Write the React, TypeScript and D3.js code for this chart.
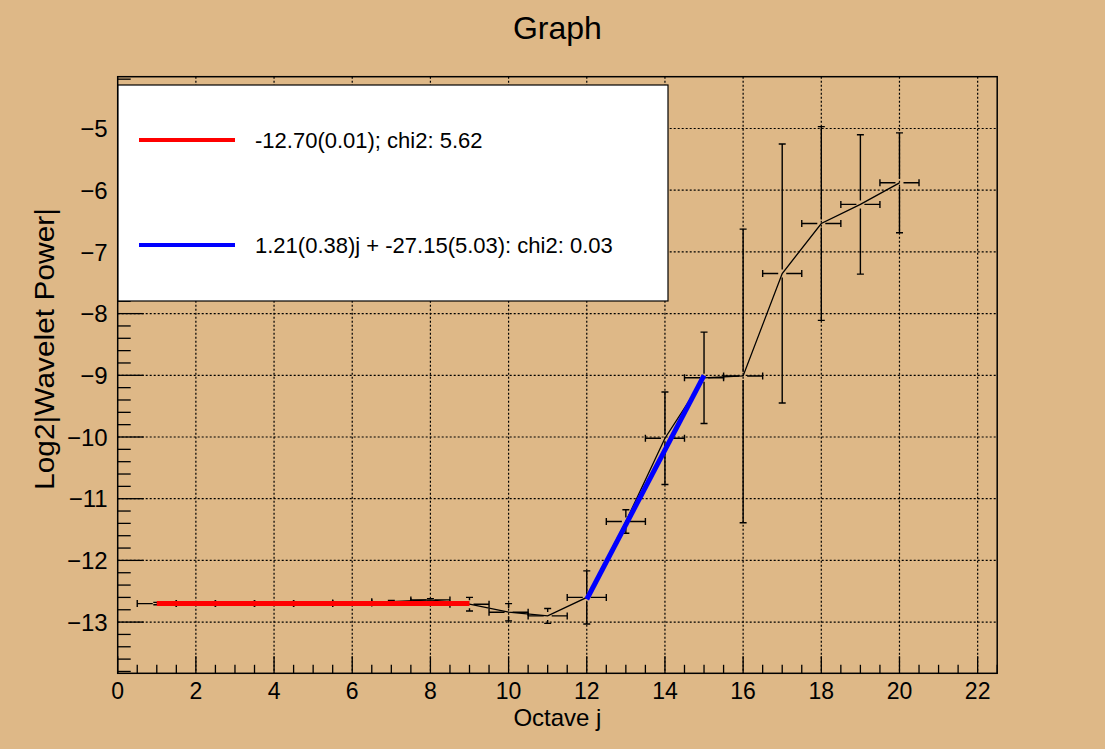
import React from 'react';
import * as d3 from 'd3';

// measured points (octave j, log2 wavelet power) with errors
const octave = [1, 2, 3, 4, 5, 6, 7, 8, 9, 10, 11, 12, 13, 14, 15, 16, 17, 18, 19, 20];
const octaveErr = [0.5, 0.5, 0.5, 0.5, 0.5, 0.5, 0.5, 0.5, 0.5, 0.5, 0.5, 0.5, 0.5, 0.5, 0.5, 0.5, 0.5, 0.5, 0.5, 0.5];
const power = [-12.70, -12.70, -12.70, -12.70, -12.70, -12.69, -12.67, -12.64, -12.71, -12.84,
  -12.90, -12.60, -11.37, -10.02, -9.04, -9.01, -7.35, -6.54, -6.23, -5.88];
const powerErr = [0.02, 0.02, 0.02, 0.02, 0.02, 0.02, 0.02, 0.02, 0.11, 0.14,
  0.12, 0.43, 0.19, 0.75, 0.74, 2.38, 2.10, 1.57, 1.13, 0.81];

// fits
const constFitRange = [1, 9];
const constFitValue = -12.70;
const linFitRange = [12, 15];
const linFitCoef = [1.21, -27.15]; // slope, intercept

const legendLabels = ['-12.70(0.01); chi2: 5.62', '1.21(0.38)j + -27.15(5.03): chi2: 0.03'];
const legendColors = ['#ff0000', '#0000ff'];

const xTicks = [0, 2, 4, 6, 8, 10, 12, 14, 16, 18, 20, 22];
const yTicks = [-13, -12, -11, -10, -9, -8, -7, -6, -5];

const W = 1105;
const H = 749;
const FONT = "'Liberation Sans', Arial, Helvetica, sans-serif";
const BG = '#deb887';

export default function App() {
  const frame = { left: 117.7, right: 997.2, top: 76.7, bottom: 673.3 };
  const x = d3.scaleLinear().domain([0, 22.5]).range([frame.left, frame.right]);
  const y = d3.scaleLinear().domain([-13.83, -4.16]).range([frame.bottom, frame.top]);

  const xMinor = d3.range(0, 22.5001, 0.5);
  const yMinor = d3.range(-13.8, -4.15, 0.2);

  const line = d3.line<number>().x((_, i) => x(octave[i])).y(d => y(d));

  const gap = 4;
  const cap = 3.5;

  const errorBars = octave.map((j, i) => {
    const cx = x(j);
    const cy = y(power[i]);
    const x0 = x(j - octaveErr[i]);
    const x1 = x(j + octaveErr[i]);
    const yTop = y(power[i] + powerErr[i]);
    const yBot = y(power[i] - powerErr[i]);
    const segs: string[] = [];
    if (cx - x0 > gap) {
      segs.push(`M${x0},${cy}H${cx - gap}`, `M${cx + gap},${cy}H${x1}`);
    }
    segs.push(`M${x0},${cy - cap}V${cy + cap}`, `M${x1},${cy - cap}V${cy + cap}`);
    if (cy - yTop > gap) {
      segs.push(`M${cx},${yTop}V${cy - gap}`, `M${cx},${cy + gap}V${yBot}`);
    }
    segs.push(`M${cx - cap},${yTop}H${cx + cap}`, `M${cx - cap},${yBot}H${cx + cap}`);
    return <path key={i} d={segs.join('')} stroke="#000" strokeWidth={1.4} fill="none" />;
  });

  const legend = { left: 118, right: 668, top: 85, bottom: 301 };
  const legendY = [140, 245];

  return (
    <svg width={W} height={H} style={{ position: 'absolute', left: 0, top: 0 }} fontFamily={FONT}>
      <rect x={0} y={0} width={W} height={H} fill={BG} />

      <text x={(frame.left + frame.right) / 2} y={39} textAnchor="middle" fontSize={32}>Graph</text>

      {/* grid */}
      <g stroke="#000" strokeWidth={1.2} strokeDasharray="2,2">
        {xTicks.filter(t => t > 0).map(t => (
          <line key={'gx' + t} x1={x(t)} x2={x(t)} y1={frame.top} y2={frame.bottom} />
        ))}
        {yTicks.map(t => (
          <line key={'gy' + t} x1={frame.left} x2={frame.right} y1={y(t)} y2={y(t)} />
        ))}
      </g>

      {/* data */}
      <path d={line(power) || ''} stroke="#000" strokeWidth={1.3} fill="none" />
      {errorBars}

      {/* fits */}
      <line x1={x(constFitRange[0])} x2={x(constFitRange[1])} y1={y(constFitValue)} y2={y(constFitValue)}
        stroke={legendColors[0]} strokeWidth={5} />
      <line x1={x(linFitRange[0])} x2={x(linFitRange[1])}
        y1={y(linFitCoef[0] * linFitRange[0] + linFitCoef[1])}
        y2={y(linFitCoef[0] * linFitRange[1] + linFitCoef[1])}
        stroke={legendColors[1]} strokeWidth={5} />

      {/* ticks */}
      <g stroke="#000" strokeWidth={1.3}>
        {xMinor.map(t => {
          const major = Math.abs(t / 2 - Math.round(t / 2)) < 1e-6;
          return <line key={'tx' + t} x1={x(t)} x2={x(t)} y1={frame.bottom} y2={frame.bottom - (major ? 17 : 8.5)} />;
        })}
        {yMinor.map(t => {
          const major = Math.abs(t - Math.round(t)) < 1e-6;
          return <line key={'ty' + t} x1={frame.left} x2={frame.left + (major ? 26 : 13)} y1={y(t)} y2={y(t)} />;
        })}
      </g>

      {/* frame */}
      <rect x={frame.left} y={frame.top} width={frame.right - frame.left} height={frame.bottom - frame.top}
        fill="none" stroke="#000" strokeWidth={1.5} />

      {/* tick labels */}
      <g fontSize={23}>
        {xTicks.map(t => (
          <text key={'lx' + t} x={x(t)} y={699} textAnchor="middle">{t}</text>
        ))}
        {yTicks.map(t => (
          <text key={'ly' + t} x={frame.left - 10} y={y(t)} dy="0.36em" textAnchor="end" fontSize={24}>
            {'\u2212' + Math.abs(t)}
          </text>
        ))}
      </g>

      <text x={(frame.left + frame.right) / 2} y={726} textAnchor="middle" fontSize={24}>Octave j</text>
      <text transform="translate(54,349) rotate(-90)" textAnchor="middle"
        fontSize={27} textLength={282} lengthAdjust="spacingAndGlyphs">
        Log2|Wavelet Power|
      </text>

      {/* legend */}
      <rect x={legend.left} y={legend.top} width={legend.right - legend.left} height={legend.bottom - legend.top}
        fill="#fff" stroke="#000" strokeWidth={1.2} />
      {legendLabels.map((lab, i) => (
        <g key={'lg' + i}>
          <line x1={139} x2={235} y1={legendY[i]} y2={legendY[i]} stroke={legendColors[i]} strokeWidth={4} />
          <text x={255} y={legendY[i]} dy="0.36em" fontSize={22}>{lab}</text>
        </g>
      ))}
    </svg>
  );
}
